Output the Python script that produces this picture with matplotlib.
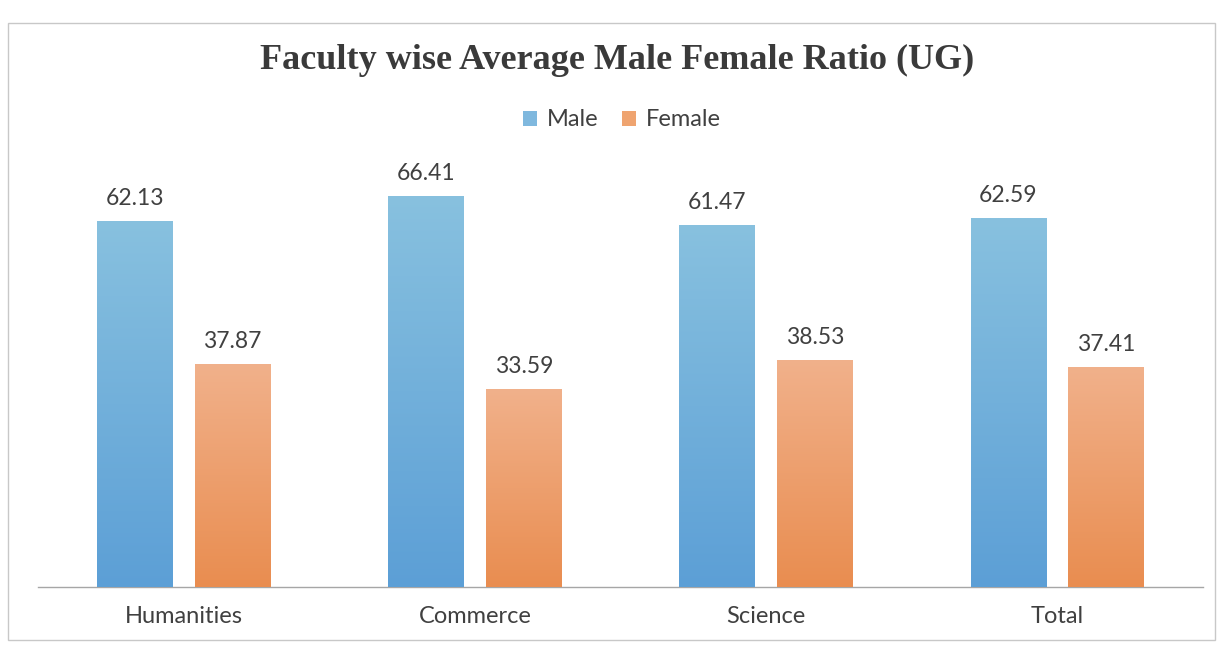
import matplotlib
matplotlib.use("Agg")
import matplotlib.pyplot as plt
import numpy as np
from matplotlib.patches import Rectangle
from matplotlib.colors import LinearSegmentedColormap

categories = ["Humanities", "Commerce", "Science", "Total"]
male = [62.13, 66.41, 61.47, 62.59]
female = [37.87, 33.59, 38.53, 37.41]
series_names = ["Male", "Female"]

W, H = 1224, 647
fig = plt.figure(figsize=(W / 100, H / 100), dpi=100)
fig.patch.set_facecolor("white")

# outer chart border
fig.patches.append(Rectangle((8 / W, 1 - 640 / H), (1215 - 8) / W, (640 - 23) / H,
                             transform=fig.transFigure, fill=False,
                             edgecolor="#c8c8c8", linewidth=1.0))

ax = fig.add_axes([38 / W, (H - 587) / H, (1203 - 38) / W, (587 - 145) / H])
ax.set_xlim(-0.5, 3.5)
ax.set_ylim(0, 75)
for s in ["top", "right", "left"]:
    ax.spines[s].set_visible(False)
ax.spines["bottom"].set_color("#a6a6a6")
ax.spines["bottom"].set_linewidth(1.0)
ax.set_yticks([])
ax.tick_params(axis="x", length=0, pad=14, labelsize=17, labelcolor="#404040")
x = np.arange(len(categories))
ax.set_xticks(x)
ax.set_xticklabels(categories, fontfamily="Lato")

bw = 0.26
off = 0.168
male_cmap = LinearSegmentedColormap.from_list("m", ["#5c9fd6", "#88c1df"])
fem_cmap = LinearSegmentedColormap.from_list("f", ["#e98d50", "#f1b18b"])
grad = np.linspace(0, 1, 256).reshape(-1, 1)

def grad_bars(xs, vals, cmap, label, legend_color):
    bars = ax.bar(xs, vals, bw, color=legend_color, label=label, zorder=2)
    for b in bars:
        x0, y0 = b.get_x(), b.get_y()
        w, h = b.get_width(), b.get_height()
        im = ax.imshow(grad, extent=[x0, x0 + w, y0, y0 + h], origin="lower",
                       cmap=cmap, aspect="auto", zorder=3)
        im.set_clip_path(b)
    return bars

bm = grad_bars(x - off, male, male_cmap, series_names[0], "#7fb8de")
bf = grad_bars(x + off, female, fem_cmap, series_names[1], "#efa470")
ax.set_xlim(-0.5, 3.5)
ax.set_ylim(0, 75)

for xs, vals in [(x - off, male), (x + off, female)]:
    for xi, v in zip(xs, vals):
        ax.annotate(f"{v:.2f}", (xi, v), xytext=(0, 8.5), textcoords="offset points",
                    ha="center", va="bottom", fontsize=16.5, color="#404040",
                    fontfamily="Lato")

fig.text(617 / W, 1 - 60 / H, "Faculty wise Average Male Female Ratio (UG)",
         ha="center", va="center", fontsize=26, fontweight="bold",
         fontfamily="Liberation Serif", color="#3a3a3a")

leg = fig.legend(handles=[bm, bf], labels=series_names, loc="center",
                 bbox_to_anchor=(622 / W, 1 - 120 / H), ncol=2, frameon=False,
                 handlelength=0.6, handleheight=0.6,
                 handletextpad=0.4, columnspacing=1.0,
                 prop={"family": "Lato", "size": 17})
for t in leg.get_texts():
    t.set_color("#404040")

fig.savefig("out.png", dpi=100, facecolor="white")
